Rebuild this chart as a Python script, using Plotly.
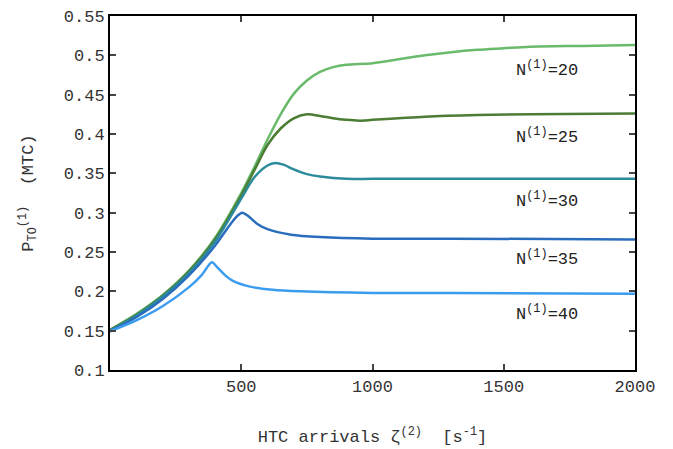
import plotly.graph_objects as go

# ---- data ----
x_n20 = [0, 100, 200, 300, 400, 500, 550, 600, 650, 700, 750, 800, 850, 900, 1000, 1100, 1200, 1300, 1400, 1500, 1600, 1800, 2000]
y_n20 = [0.151, 0.171, 0.195, 0.226, 0.268, 0.325, 0.358, 0.393, 0.425, 0.451, 0.468, 0.479, 0.485, 0.488, 0.490, 0.495, 0.500, 0.504, 0.507, 0.509, 0.511, 0.512, 0.513]

x_n25 = [0, 100, 200, 300, 400, 500, 550, 600, 650, 700, 750, 800, 850, 900, 950, 1000, 1100, 1200, 1400, 1600, 2000]
y_n25 = [0.151, 0.170, 0.194, 0.225, 0.266, 0.322, 0.354, 0.386, 0.407, 0.420, 0.425, 0.423, 0.420, 0.418, 0.417, 0.418, 0.420, 0.422, 0.424, 0.425, 0.426]

x_n30 = [0, 100, 200, 300, 400, 500, 550, 600, 630, 660, 700, 750, 800, 900, 1000, 1500, 2000]
y_n30 = [0.150, 0.169, 0.193, 0.223, 0.263, 0.318, 0.345, 0.360, 0.363, 0.361, 0.355, 0.349, 0.346, 0.343, 0.343, 0.343, 0.343]

x_n35 = [0, 100, 200, 300, 400, 430, 460, 485, 503, 525, 560, 600, 690, 800, 1000, 1300, 2000]
y_n35 = [0.149, 0.167, 0.190, 0.220, 0.258, 0.272, 0.286, 0.296, 0.300, 0.296, 0.286, 0.279, 0.272, 0.269, 0.267, 0.267, 0.266]

x_n40 = [0, 100, 200, 300, 350, 388, 410, 440, 470, 533, 620, 724, 1000, 1300, 2000]
y_n40 = [0.149, 0.163, 0.181, 0.205, 0.221, 0.237, 0.230, 0.220, 0.213, 0.206, 0.202, 0.200, 0.198, 0.198, 0.197]

series_names = ["N<sup>(1)</sup>=20", "N<sup>(1)</sup>=25", "N<sup>(1)</sup>=30", "N<sup>(1)</sup>=35", "N<sup>(1)</sup>=40"]
series_colors = ["#6aba6c", "#4b7d34", "#2b8b9b", "#2b6dbd", "#3c9cf0"]
label_x = [1665, 1665, 1665, 1665, 1665]
label_y = [0.4825, 0.397, 0.3167, 0.2428, 0.1727]

x_tickvals = [500, 1000, 1500, 2000]
x_ticktext = ["500", "1000", "1500", "2000"]
y_tickvals = [0.1, 0.15, 0.2, 0.25, 0.3, 0.35, 0.4, 0.45, 0.5, 0.55]
y_ticktext = ["0.1", "0.15", "0.2", "0.25", "0.3", "0.35", "0.4", "0.45", "0.5", "0.55"]

xs = [x_n20, x_n25, x_n30, x_n35, x_n40]
ys = [y_n20, y_n25, y_n30, y_n35, y_n40]

FONT = "Liberation Mono, Courier New, monospace"

fig = go.Figure()
for xv, yv, name, col in zip(xs, ys, series_names, series_colors):
    fig.add_trace(go.Scatter(x=xv, y=yv, mode="lines", name=name,
                             line=dict(color=col, width=2.5, shape="spline", smoothing=0.8),
                             showlegend=False))

for name, lx, ly in zip(series_names, label_x, label_y):
    fig.add_annotation(x=lx, y=ly, xref="x", yref="y", text=name, showarrow=False,
                       font=dict(family=FONT, size=17, color="#222"))

axis_common = dict(showline=True, mirror="ticks", linecolor="black", linewidth=2,
                   ticks="inside", ticklen=6, tickwidth=1.5, tickcolor="#444",
                   showgrid=False, zeroline=False, automargin=False,
                   tickfont=dict(family=FONT, size=17, color="#333"))

fig.update_layout(
    width=673, height=449,
    margin=dict(l=110, r=38, t=16, b=79),
    plot_bgcolor="white", paper_bgcolor="white",
    font=dict(family=FONT, size=17, color="#333"),
    xaxis=dict(range=[0, 2000], tickvals=x_tickvals, ticktext=x_ticktext,
               title=dict(text="HTC arrivals ζ<sup>(2)</sup>  [s<sup>-1</sup>]",
                          font=dict(family=FONT, size=17, color="#333"), standoff=34),
               **axis_common),
    yaxis=dict(range=[0.1, 0.55], tickvals=y_tickvals, ticktext=y_ticktext,
               title=dict(text="P<sub>TO</sub><sup>(1)</sup>  (MTC)",
                          font=dict(family=FONT, size=17, color="#333"), standoff=26),
               **axis_common),
)

fig.write_html("out.html")
